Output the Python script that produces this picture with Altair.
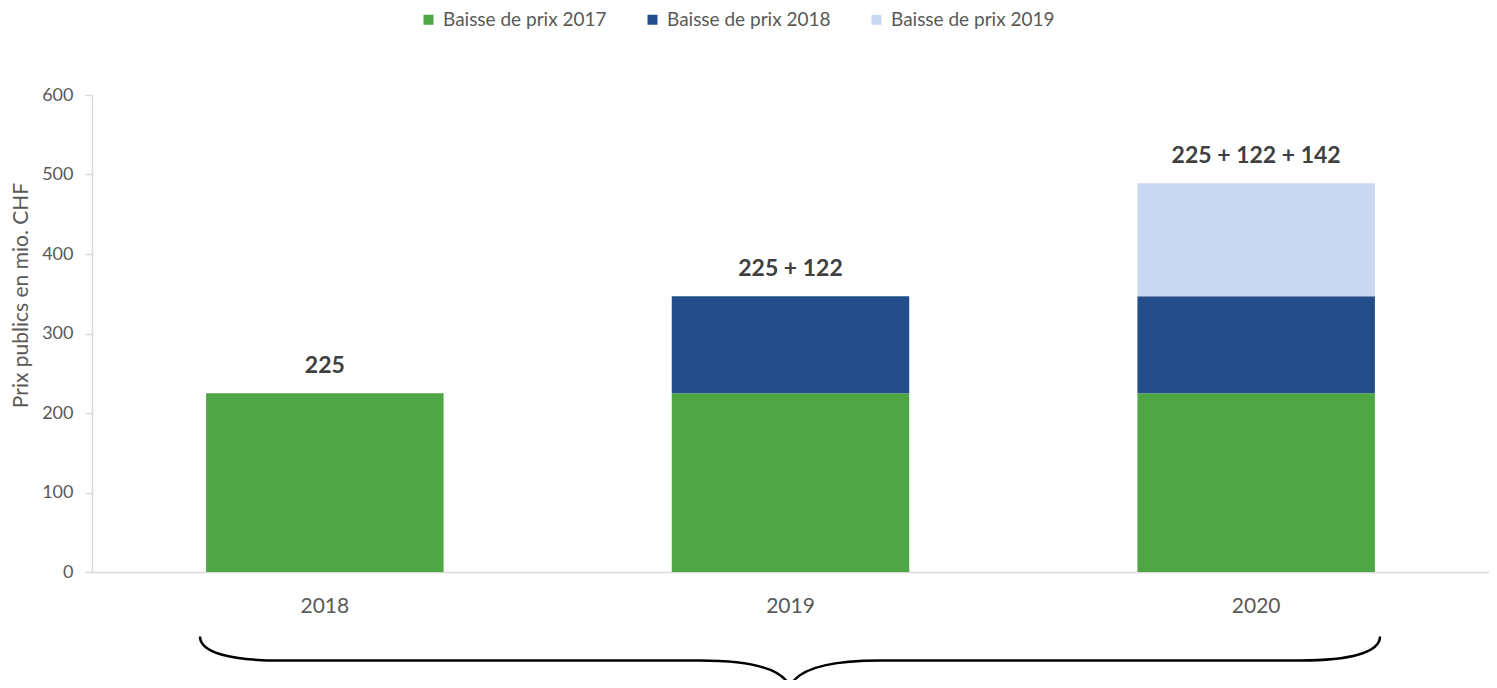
import altair as alt
import pandas as pd

years = ["2018", "2019", "2020"]
series = ["Baisse de prix 2017", "Baisse de prix 2018", "Baisse de prix 2019"]
vals_2017 = [225, 225, 225]
vals_2018 = [0, 122, 122]
vals_2019 = [0, 0, 142]
colors = ["#4EA645", "#234E8A", "#C9D9F1"]

rows = []
for i, y in enumerate(years):
    for j, (s, vals) in enumerate(zip(series, [vals_2017, vals_2018, vals_2019])):
        if vals[i] > 0:
            rows.append({"year": y, "serie": s, "value": vals[i], "order": j})
df = pd.DataFrame(rows)

lab_rows = []
for i, y in enumerate(years):
    parts = [v[i] for v in [vals_2017, vals_2018, vals_2019] if v[i] > 0]
    lab_rows.append({"year": y, "total": sum(parts), "label": " + ".join(str(p) for p in parts)})
lab = pd.DataFrame(lab_rows)

FONT = "Lato"
GREY = "#595959"

xenc = alt.X("year:N", sort=years, title=None,
             scale=alt.Scale(paddingInner=0.49, paddingOuter=0.245),
             axis=alt.Axis(labelAngle=0, labelFontSize=21, labelColor=GREY, labelFont=FONT,
                           ticks=False, labelPadding=23, domainColor="#D9D9D9", domainWidth=1.5))

bars = alt.Chart(df).mark_bar().encode(
    x=xenc,
    y=alt.Y("value:Q", stack="zero",
            scale=alt.Scale(domain=[0, 600], nice=False),
            axis=alt.Axis(values=[0, 100, 200, 300, 400, 500, 600], grid=False,
                          domainColor="#D9D9D9", domainWidth=1.5, tickColor="#D9D9D9",
                          tickWidth=1.5, tickSize=7, labelPadding=12, labelFontSize=18,
                          labelColor=GREY, labelFont=FONT,
                          title="Prix publics en mio. CHF", titleFontSize=21,
                          titleFontWeight="normal", titleColor=GREY, titleFont=FONT,
                          titleAngle=270, titleX=-71, titleY=200,
                          titleAlign="center", titleBaseline="middle")),
    color=alt.Color("serie:N", sort=series,
                    scale=alt.Scale(domain=series, range=colors),
                    legend=alt.Legend(title=None, orient="none", legendX=327, legendY=-85,
                                      direction="horizontal", symbolType="square",
                                      symbolSize=100, symbolStrokeWidth=0,
                                      labelFontSize=19, labelColor=GREY, labelFont=FONT,
                                      labelLimit=400, columnPadding=36, labelOffset=5)),
    order=alt.Order("order:Q", sort="ascending"),
)

texts = alt.Chart(lab).mark_text(dy=-27, baseline="middle", fontSize=23, fontWeight="bold",
                                 color="#404040", font=FONT).encode(
    x=alt.X("year:N", sort=years),
    y=alt.Y("total:Q"),
    text="label:N",
)

brace_path = ("M -1 -0.0407 C -1 -0.0136 -0.949 0 -0.8644 0 L -0.1525 0 "
              "C -0.0678 0 -0.0136 0.0136 0 0.0441 "
              "C 0.0136 0.0136 0.0678 0 0.1525 0 L 0.8644 0 "
              "C 0.949 0 1 -0.0136 1 -0.0407")

brace = alt.Chart(pd.DataFrame({"k": [0]})).mark_point(
    shape=brace_path, size=1180 * 1180, filled=False, stroke="black",
    strokeWidth=2.5, opacity=1).encode(x=alt.value(698), y=alt.value(565.5))

chart = alt.layer(bars, texts, brace).properties(
    width=1397, height=477,
    autosize=alt.AutoSizeParams(type="none"),
    padding={"left": 84, "top": 87, "right": 0, "bottom": 108},
).configure_view(stroke=None)

chart.save("out.html", embed_options={"renderer": "svg", "actions": False})
